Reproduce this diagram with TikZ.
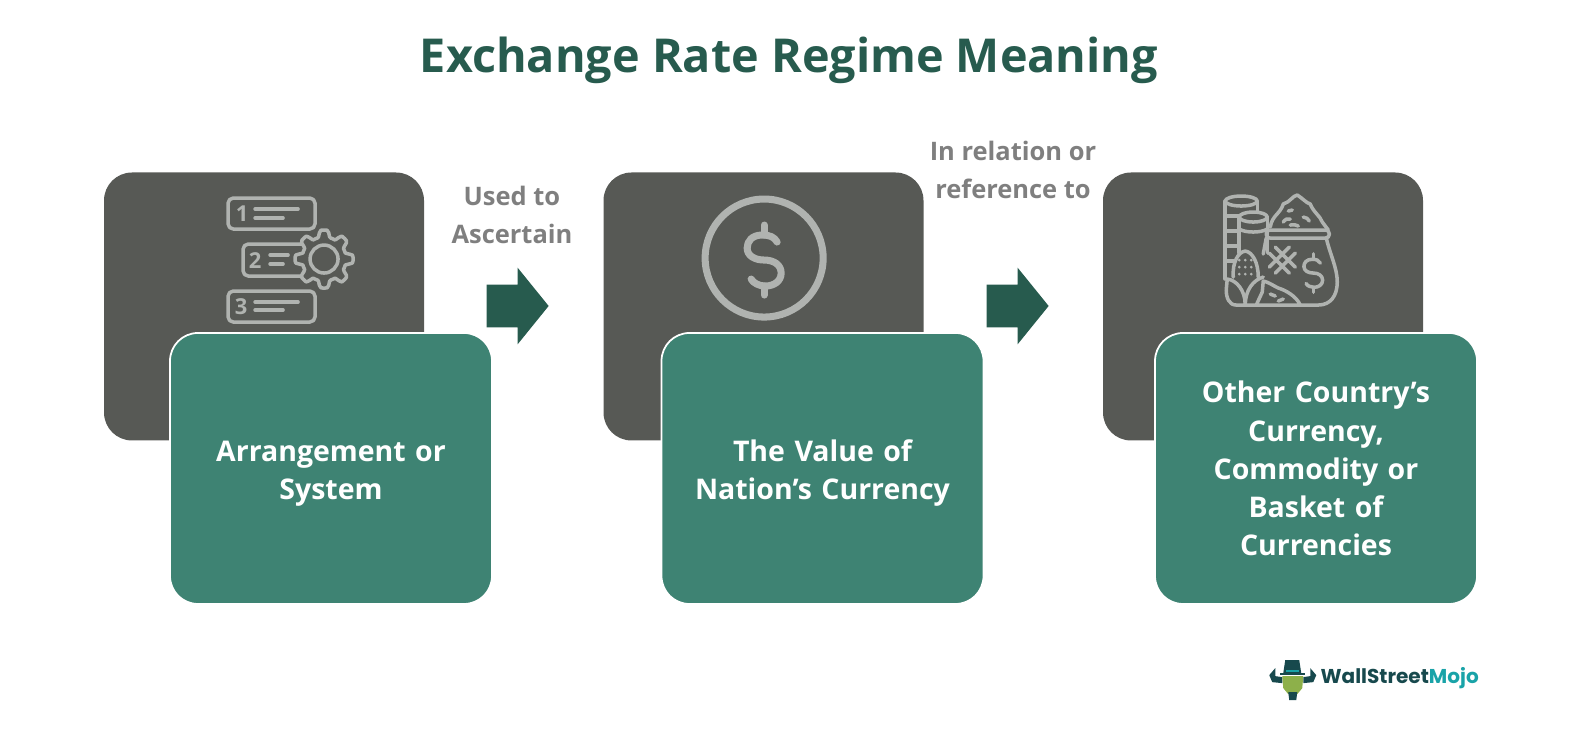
\documentclass[tikz,border=0pt]{standalone}
\usepackage{fontspec}
\setmainfont{Open Sans}
\newfontfamily\logofont{Poppins}
\usetikzlibrary{positioning}
\usetikzlibrary{shapes.arrows}
\definecolor{darkgray}{HTML}{575955}
\definecolor{boxgreen}{HTML}{3E8373}
\definecolor{deepgreen}{HTML}{275B4E}
\definecolor{labelgray}{HTML}{7F7F7F}
\definecolor{icongray}{HTML}{B0B3B0}
\definecolor{logodark}{HTML}{17494D}
\definecolor{logoteal}{HTML}{19A3A8}
\definecolor{logogreen}{HTML}{8DB04A}
\tikzset{darkbox/.style={fill=darkgray,rounded corners=.56cm,minimum width=6.4cm,minimum height=5.36cm,inner sep=0pt}}
\tikzset{greenbox/.style={draw=white,line width=1pt,fill=boxgreen,rounded corners=.56cm,minimum width=6.44cm,minimum height=5.42cm,text width=5.6cm,align=center,text=white,font=\fontsize{16.2}{21.7}\selectfont\bfseries}}
\tikzset{blockarrow/.style={single arrow,fill=deepgreen,minimum height=1.24cm,minimum width=1.52cm,single arrow head extend=.34cm,single arrow tip angle=102,single arrow head indent=0pt,inner sep=0pt,execute at begin node={\rule{0pt}{.84cm}}}}
\tikzset{note/.style={align=center,text=labelgray,font=\fontsize{14.5}{21.5}\selectfont\bfseries}}
\tikzset{icon/.style={draw=icongray,line width=2pt,line cap=round,line join=round}}
\tikzset{num/.style={text=icongray,inner sep=0pt,font=\fontsize{12.5}{12.5}\selectfont\bfseries}}
\tikzset{dollarsign/.pic={
    \path[pic actions] (13,-18) .. controls (10,-23) and (6,-25) .. (-2,-25)
     .. controls (-12,-25) and (-17,-19) .. (-17,-12)
     .. controls (-17,-4) and (-9,0) .. (0,0)
     .. controls (10,0) and (17,5) .. (17,13)
     .. controls (17,21) and (10,26) .. (1,26)
     .. controls (-5,26) and (-11,23) .. (-13,19);
    \path[pic actions] (0,-35) -- (0,-25) (0,26) -- (0,35);
}}
\begin{document}
\begin{tikzpicture}[on grid]
    \useasboundingbox (0,0) rectangle (31.68,14.9);

    \node[text=deepgreen,font=\fontsize{26.6}{32}\selectfont\bfseries] (title) at (15.78,13.70) {Exchange Rate Regime Meaning};

    \node[darkbox] (sys) at (5.28,8.77) {};
    \node[darkbox, right=9.99 of sys] (val) {};
    \node[darkbox, right=9.99 of val] (oth) {};

    \node[greenbox, below right=3.24 and 1.34 of sys] (sysg) {\rule{0pt}{.6cm}Arrangement or\\System};
    \node[greenbox, below right=3.24 and 1.18 of val] (valg) {\rule{0pt}{.6cm}The Value of\\Nation’s Currency};
    \node[greenbox, below right=3.24 and 1.06 of oth] (othg) {Other Country’s\\Currency,\\Commodity or\\Basket of\\Currencies};

    \node[blockarrow] (arr1) at (10.18,8.78) {};
    \node[blockarrow, right=10.0 of arr1] (arr2) {};

    \node[note, above=1.82 of arr1, xshift=.06cm] (lab1) {Used to\\Ascertain};
    \node[note, above=2.72 of arr2, xshift=.08cm] (lab2) {In relation or\\reference to};

    % icons, in pixels of the sheet
    \begin{scope}[yshift=14.9cm,x=0.02cm,y=-0.02cm]
        % steps and gear
        \draw[icon,rounded corners=3pt] (228,198) rectangle (315,229);
        \draw[icon,rounded corners=3pt] (302,244) -- (243,244) -- (243,276) -- (302,276);
        \draw[icon,rounded corners=3pt] (228,291) rectangle (315,322);
        \node[num] (n1) at (242,214) {1};
        \node[num] (n2) at (255,261) {2};
        \node[num] (n3) at (241,307) {3};
        \draw[icon] (255,209) -- (298,209) (255,218) -- (283,218);
        \draw[icon] (270,255) -- (288,255) (270,264) -- (283,264);
        \draw[icon] (255,302) -- (298,302) (255,310) -- (283,310);
        \draw[icon,fill=darkgray] plot[smooth cycle,domain=0:356,samples=90,variable=\t] ({324+(25.5+max(-3.5,min(3.5,7*cos(8*\t))))*cos(\t)},{259+(25.5+max(-3.5,min(3.5,7*cos(8*\t))))*sin(\t)});
        \draw[icon] (324,259) circle[radius=14];

        % dollar coin
        \draw[icon,line width=4pt] (764,258) circle[radius=59];
        \pic[icon,line width=4pt] at (764,260) {dollarsign};

        % coins, corn and bag
        \draw[icon] (1241,201) ellipse[x radius=16,y radius=5];
        \draw[icon] (1225,201) -- (1225,279) (1257,201) -- (1257,212);
        \draw[icon] (1225,216) -- (1239,216) (1225,231) -- (1239,231) (1225,246) -- (1239,246) (1225,261) -- (1234,261);
        \draw[icon] (1253,217) ellipse[x radius=14,y radius=5];
        \draw[icon] (1239,217) -- (1239,253) (1267,217) -- (1267,253);
        \draw[icon] (1239,229) .. controls (1245,233) and (1261,233) .. (1267,229);
        \draw[icon,rounded corners=2pt] (1266,230) rectangle (1329,238);
        \draw[icon] (1270,227) .. controls (1272,215) and (1280,214) .. (1283,204) .. controls (1290,202) and (1292,196) .. (1297,195)
         .. controls (1302,198) and (1306,203) .. (1310,204) .. controls (1313,212) and (1320,216) .. (1322,222) -- (1328,230);
        \draw[icon] (1283,222) .. controls (1285,219) and (1288,218) .. (1290,219) (1303,217) .. controls (1306,217) and (1308,219) .. (1309,221)
         (1290,225) .. controls (1293,224) and (1296,225) .. (1298,226) (1288,211) -- (1292,210);
        \draw[icon] (1326,238) .. controls (1330,255) and (1337,268) .. (1337,282) .. controls (1337,296) and (1330,305) .. (1318,305) -- (1300,305);
        \draw[icon] (1266,238) -- (1263,254);
        \draw[icon] (1275,247) -- (1295,267) (1269,253) -- (1289,273) (1275,273) -- (1295,253) (1269,267) -- (1289,247);
        \pic[icon,scale=.55] at (1313,273) {dollarsign};
        \draw[icon] (1233,277) .. controls (1232,262) and (1238,252) .. (1245,251) .. controls (1252,252) and (1258,262) .. (1258,277);
        \foreach \dx in {1239,1245,1251}
            \foreach \dy in {260,267,274}
                \fill[icongray] (\dx,\dy) circle[radius=1.5];
        \draw[icon] (1227,279) .. controls (1236,280) and (1245,290) .. (1245,305) -- (1236,305) .. controls (1229,305) and (1226,298) .. (1226,290) -- cycle;
        \draw[icon] (1263,277) .. controls (1253,280) and (1245,290) .. (1245,305);
        \draw[icon] (1245,305) -- (1300,305) .. controls (1296,296) and (1285,290) .. (1278,288) .. controls (1272,285) and (1268,282) .. (1263,281) -- (1262,292) -- (1256,305);
        \draw[icon] (1270,294) -- (1275,296) (1278,301) -- (1283,299);

        % logo
        \fill[logodark] (1283,673) -- (1285,660) -- (1299,660) -- (1301,673) -- cycle;
        \fill[logodark] (1280,673) rectangle (1305,675);
        \fill[logodark] (1275,668) -- (1269,675) -- (1272,682) -- (1282,683) -- (1282,677) -- (1275,676) -- cycle;
        \fill[logodark] (1310,668) -- (1316,675) -- (1313,682) -- (1303,683) -- (1303,677) -- (1310,676) -- cycle;
        \fill[logogreen] (1282,676) -- (1303,676) -- (1302,688) -- (1297,694) -- (1288,694) -- (1283,688) -- cycle;
        \fill[logodark] (1288,692) -- (1297,692) -- (1296,700) -- (1289,700) -- cycle;
        \fill[logoteal] (1286,670) rectangle (1299,672);
        \node[anchor=west,inner sep=0pt,font=\logofont\fontsize{11.4}{14}\selectfont\bfseries] (logo) at (1320,678) {\textcolor{logodark}{WallStreet}\textcolor{logoteal}{Mojo}};
    \end{scope}
\end{tikzpicture}
\end{document}
